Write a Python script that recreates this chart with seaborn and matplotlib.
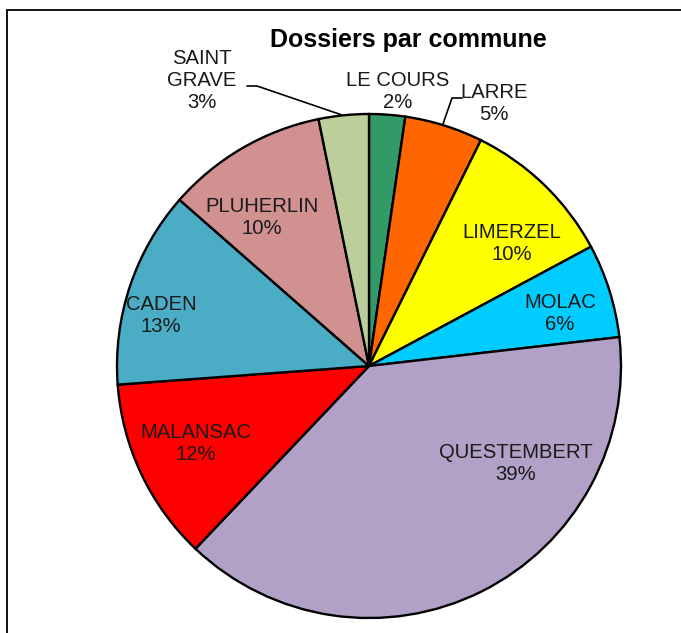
import matplotlib
matplotlib.use("Agg")
import matplotlib.pyplot as plt
import seaborn as sns
from matplotlib.lines import Line2D

# Data (clockwise from 12 o'clock)
communes = ["LE COURS", "LARRE", "LIMERZEL", "MOLAC", "QUESTEMBERT",
            "MALANSAC", "CADEN", "PLUHERLIN", "SAINT GRAVE"]
shares = [2.3, 5.0, 9.8, 6.0, 38.8, 11.7, 12.6, 10.3, 3.2]
pct_labels = ["2%", "5%", "10%", "6%", "39%", "12%", "13%", "10%", "3%"]
colors = ["#339966", "#FF6600", "#FFFF00", "#00CCFF", "#B2A1C7",
          "#FF0000", "#4BACC6", "#D29191", "#BCCF9A"]

sns.set_theme(style="white")
plt.rcParams['font.family'] = ['Liberation Sans', 'DejaVu Sans']

W, H = 681, 633
CX, CY, R = 369, 366, 252  # pie centre and radius in pixels


def px(x, y):
    # pixel position (from top-left) -> data units of the pie axes
    return (x - CX) / R, (CY - y) / R


fig = plt.figure(figsize=(W / 100, H / 100), dpi=100)
ax = fig.add_axes([0, 0, 1, 1])

ax.pie(shares, colors=colors, startangle=90, counterclock=False,
       wedgeprops=dict(edgecolor="black", linewidth=1.7))
ax.set_xlim(-CX / R, (W - CX) / R)
ax.set_ylim(-(H - CY) / R, CY / R)
ax.set_aspect("auto")
ax.axis("off")

# label positions (pixels, centre of the label block)
label_pos = {
    "LE COURS": (398, 92),
    "LARRE": (494, 104),
    "LIMERZEL": (512, 244),
    "MOLAC": (560, 314),
    "QUESTEMBERT": (516, 464),
    "MALANSAC": (196, 444),
    "CADEN": (161, 315),
    "PLUHERLIN": (262, 217),
    "SAINT GRAVE": (202, 80),
}

for name, pct in zip(communes, pct_labels):
    x, y = px(*label_pos[name])
    text = name.replace(" ", "\n") if name == "SAINT GRAVE" else name
    ax.text(x, y, f"{text}\n{pct}", ha="center", va="center",
            fontsize=14.6, color="#1a1a1a", linespacing=1.2)

# leader lines
for pts in ([(247, 86), (257, 86), (342, 115)],
            [(462, 98), (452, 98), (443, 124)]):
    xs, ys = zip(*[px(*p) for p in pts])
    ax.plot(xs, ys, color="black", linewidth=1.2)

fig.text(408 / W, 1 - 40 / H, "Dossiers par commune", ha="center", va="center",
         fontsize=18, fontweight="bold", color="black")

# outer frame (top and left edges only visible in the reference)
fig.add_artist(Line2D([7 / W, 7 / W], [0, 1 - 10 / H], color="black", linewidth=1.3))
fig.add_artist(Line2D([7 / W, 1], [1 - 10 / H, 1 - 10 / H], color="black", linewidth=1.3))

fig.savefig("out.png", dpi=100)
